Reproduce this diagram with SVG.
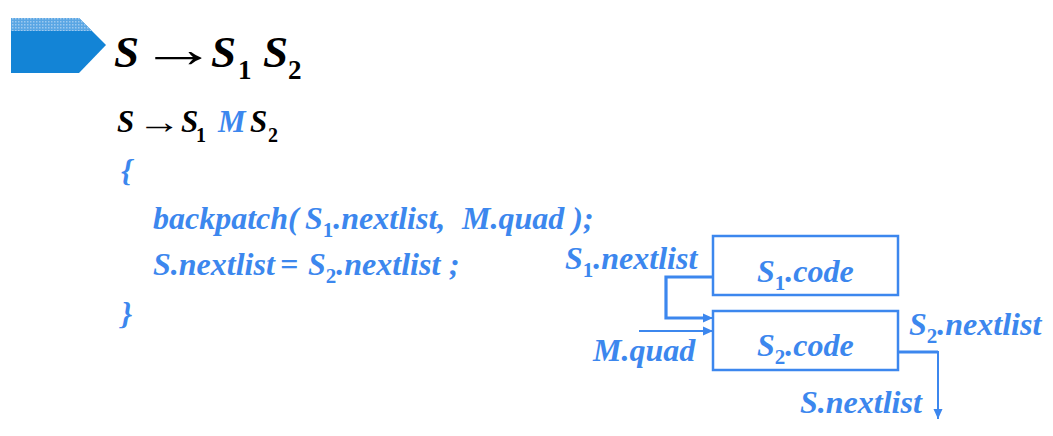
<svg xmlns="http://www.w3.org/2000/svg" width="1053" height="436" viewBox="0 0 1053 436">
<style>
  .t { font-family: 'Liberation Serif', serif; font-weight: bold; font-style: italic; }
  .up { font-style: normal; }
  .blk { fill: #000; }
  .blu { fill: #3c87ee; }
  .box { fill: #fff; stroke: #3c87ee; stroke-width: 2.5; }
  .thick { fill: none; stroke: #3c87ee; stroke-width: 3.2; }
  .thin { fill: none; stroke: #3c87ee; stroke-width: 2; }
</style>
<defs>
  <pattern id="dots" width="3" height="3" patternUnits="userSpaceOnUse">
    <rect width="3" height="3" fill="#5aa6e4"/>
    <rect width="1.5" height="1.5" fill="#9cc9ef"/>
  </pattern>
  <marker id="ah" markerUnits="userSpaceOnUse" markerWidth="10" markerHeight="10" viewBox="0 0 10 10" refX="10" refY="5" orient="auto">
    <path d="M0,0.5 L10,5 L0,9.5 Z" fill="#3c87ee"/>
  </marker>
</defs>

<g id="banner">
  <path d="M11,18 H79 L106,45 L79,73 H11 Z" fill="#1384d6"/>
  <path d="M11,18 H79 L92,31 H11 Z" fill="url(#dots)"/>
</g>

<g id="title">
  <text class="t blk" font-size="45"><tspan x="114" y="67">S</tspan><tspan x="211" y="67">S</tspan><tspan class="up" x="238" y="79" font-size="27">1</tspan><tspan x="263" y="67">S</tspan><tspan class="up" x="288" y="79" font-size="27">2</tspan></text>
  <text class="t up blk" font-size="52" x="139" y="67" textLength="78" lengthAdjust="spacingAndGlyphs">→</text>
</g>

<g id="production">
  <text class="t" font-size="31"><tspan class="blk" x="117" y="132">S</tspan><tspan class="blk" x="181" y="132">S</tspan><tspan class="blk up" x="196" y="142" font-size="20">1</tspan><tspan class="blu" x="218" y="132">M</tspan><tspan class="blk" x="250" y="132">S</tspan><tspan class="blk up" x="268" y="142" font-size="20">2</tspan></text>
  <text class="t up blk" font-size="33" x="137" y="133" textLength="44" lengthAdjust="spacingAndGlyphs">→</text>
</g>

<g id="code">
  <text class="t blu" font-size="32" x="121" y="181">{</text>
  <text class="t blu" font-size="32" y="229"><tspan x="153">backpatch(</tspan><tspan x="305">S</tspan><tspan class="up" font-size="21" dy="8">1</tspan><tspan dy="-8">.nextlist,</tspan><tspan x="462">M.quad );</tspan></text>
  <text class="t blu" font-size="32" y="275"><tspan x="153">S.nextlist</tspan><tspan x="280">=</tspan><tspan x="308">S</tspan><tspan class="up" font-size="21" dy="8">2</tspan><tspan dy="-8">.nextlist</tspan><tspan x="449">;</tspan></text>
  <text class="t blu" font-size="32" x="121" y="324">}</text>
</g>

<g id="s1code">
  <rect class="box" x="713" y="236" width="185" height="59"/>
  <text class="t blu" font-size="32" x="757" y="282">S<tspan class="up" font-size="21" dy="8">1</tspan><tspan dy="-8">.code</tspan></text>
</g>

<g id="s2code">
  <rect class="box" x="713" y="311" width="185" height="59"/>
  <text class="t blu" font-size="32" x="757" y="356">S<tspan class="up" font-size="21" dy="8">2</tspan><tspan dy="-8">.code</tspan></text>
</g>

<g id="connectors">
  <path class="thick" d="M713,277 H666 V318 H704"/>
  <path class="thin" d="M704,318 H713" marker-end="url(#ah)"/>
  <path class="thin" d="M639,331 H713" marker-end="url(#ah)"/>
  <path class="thick" d="M898,352 H938"/>
  <path class="thin" d="M938,351 V419" marker-end="url(#ah)"/>
</g>

<g id="labels">
  <text class="t blu" font-size="32" x="565" y="269">S<tspan class="up" font-size="21" dy="8">1</tspan><tspan dy="-8">.nextlist</tspan></text>
  <text class="t blu" font-size="32" x="593" y="361">M.quad</text>
  <text class="t blu" font-size="32" x="909" y="335">S<tspan class="up" font-size="21" dy="8">2</tspan><tspan dy="-8">.nextlist</tspan></text>
  <text class="t blu" font-size="32" x="800" y="413">S.nextlist</text>
</g>
</svg>
